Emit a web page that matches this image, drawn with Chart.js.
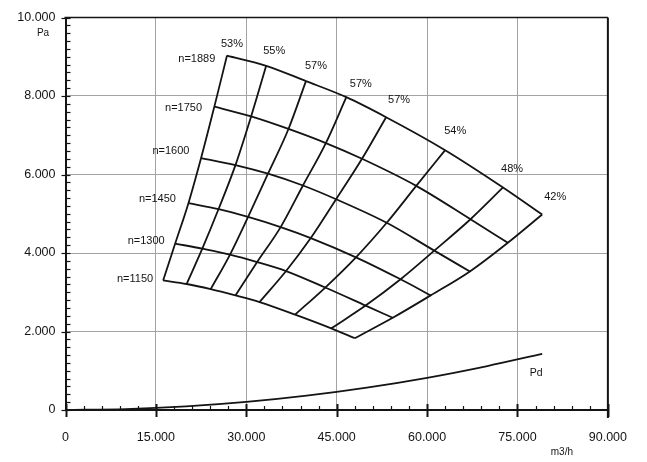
<!DOCTYPE html>
<html>
<head>
<meta charset="utf-8">
<script src="https://cdn.jsdelivr.net/npm/chart.js@4/dist/chart.umd.min.js"></script>
<style>
html,body{margin:0;padding:0;background:#fff;}
#wrap{width:647px;height:462px;}
</style>
</head>
<body>
<div id="wrap"><canvas id="c" width="647" height="462"></canvas></div>
<script>
// ---------- DATA ----------
const speeds = [1150, 1300, 1450, 1600, 1750, 1889];
const efficiencyLabels = ['53%', '55%', '57%', '57%', '57%', '54%', '48%', '42%'];

// flow (m3/h) and pressure (Pa) where each speed curve crosses each efficiency line
const q1150 = [16200, 20100, 24100, 28200, 32200, 38100, 44100, 48000];
const p1150 = [3300, 3210, 3080, 2920, 2750, 2430, 2080, 1830];
const q1300 = [18200, 22700, 27300, 31800, 36600, 43100, 49800, 54300];
const p1300 = [4240, 4110, 3960, 3770, 3540, 3120, 2660, 2350];
const q1450 = [20400, 25400, 30300, 35700, 40700, 48200, 55600, 60600];
const p1450 = [5270, 5120, 4920, 4660, 4380, 3890, 3330, 2920];
const q1600 = [22500, 28200, 33600, 39400, 44900, 53300, 61200, 67100];
const p1600 = [6420, 6240, 6020, 5720, 5370, 4770, 4060, 3530];
const q1750 = [24700, 30800, 37000, 43200, 49200, 58200, 67200, 73400];
const p1750 = [7730, 7480, 7160, 6800, 6400, 5710, 4860, 4260];
const q1889 = [26800, 33300, 39900, 46600, 53200, 63000, 72600, 79100];
const p1889 = [9030, 8770, 8380, 7970, 7460, 6620, 5670, 4980];

// dynamic pressure curve Pd
const pdFlow = [0, 10000, 20000, 30000, 40000, 50000, 60000, 70000, 79100];
const pdPressure = [0, 23, 91, 205, 365, 570, 820, 1120, 1430];

// axis ticks
const flowTicks = [0, 15000, 30000, 45000, 60000, 75000, 90000];
const pressureTicks = [0, 2000, 4000, 6000, 8000, 10000];

// ---------- STYLE / LAYOUT ----------
const FONT = "'Liberation Sans', Arial, Helvetica, sans-serif";
const INK = '#141414';
const flowByRow = [q1150, q1300, q1450, q1600, q1750, q1889];
const pressByRow = [p1150, p1300, p1450, p1600, p1750, p1889];
// pixel offsets for annotation text
const nLabelOffsets = [[-10, -1.7], [-10.5, -2.5], [-12.5, -4.5], [-11.7, -6.6], [-12.3, 1], [-11.7, 3.3]];
const pctLabelOffsets = [[5, -12], [8, -15], [10, -15], [14.5, -13], [13, -17], [10, -19], [9, -18], [13, -18]];

const fmt = v => String(v).replace(/\B(?=(\d{3})+(?!\d))/g, '.');

Chart.defaults.font.family = FONT;
Chart.defaults.color = INK;

const lineStyle = {
  showLine: true, pointRadius: 0, pointHoverRadius: 0,
  borderColor: INK, backgroundColor: INK, borderWidth: 1.8,
  cubicInterpolationMode: 'monotone', fill: false
};

const datasets = [];
speeds.forEach((n, i) => {
  datasets.push(Object.assign({
    label: 'n=' + n,
    data: flowByRow[i].map((q, j) => ({ x: q, y: pressByRow[i][j] }))
  }, lineStyle));
});
efficiencyLabels.forEach((e, j) => {
  datasets.push(Object.assign({
    label: e,
    data: speeds.map((n, i) => ({ x: flowByRow[i][j], y: pressByRow[i][j] }))
  }, lineStyle));
});
datasets.push(Object.assign({
  label: 'Pd',
  data: pdFlow.map((q, k) => ({ x: q, y: pdPressure[k] }))
}, lineStyle));

const decor = {
  id: 'decor',
  afterDraw(chart) {
    const { ctx, chartArea: a, scales: { x, y } } = chart;
    ctx.save();
    ctx.strokeStyle = INK;
    ctx.lineCap = 'butt';
    // frame top & right
    ctx.lineWidth = 1.5;
    ctx.beginPath(); ctx.moveTo(a.left - 1, a.top); ctx.lineTo(a.right, a.top); ctx.stroke();
    ctx.lineWidth = 2;
    ctx.beginPath(); ctx.moveTo(a.right, a.top); ctx.lineTo(a.right, a.bottom + 8); ctx.stroke();
    // y axis minor / major ticks
    ctx.lineWidth = 1.2;
    for (let v = 0; v <= 10000; v += 200) {
      const py = Math.round(y.getPixelForValue(v)) + 0.5;
      ctx.beginPath(); ctx.moveTo(a.left, py); ctx.lineTo(a.left + 5, py); ctx.stroke();
      if (v % 2000 === 0) {
        ctx.beginPath(); ctx.moveTo(a.left - 4, py); ctx.lineTo(a.left, py); ctx.stroke();
      }
    }
    // x axis minor / major ticks
    for (let v = 0; v <= 90000; v += 3000) {
      const px = Math.round(x.getPixelForValue(v)) + 0.5;
      if (v % 15000 === 0) {
        ctx.lineWidth = 2;
        ctx.beginPath(); ctx.moveTo(px, a.bottom - 6); ctx.lineTo(px, a.bottom + 7); ctx.stroke();
      } else {
        ctx.lineWidth = 1.2;
        ctx.beginPath(); ctx.moveTo(px, a.bottom); ctx.lineTo(px, a.bottom - 4); ctx.stroke();
      }
    }
    // texts
    ctx.fillStyle = INK;
    ctx.textBaseline = 'middle';
    ctx.font = '11px ' + FONT;
    ctx.textAlign = 'right';
    speeds.forEach((n, i) => {
      const px = x.getPixelForValue(flowByRow[i][0]);
      const py = y.getPixelForValue(pressByRow[i][0]);
      ctx.fillText('n=' + n, px + nLabelOffsets[i][0], py + nLabelOffsets[i][1]);
    });
    ctx.textAlign = 'center';
    const top = flowByRow.length - 1;
    efficiencyLabels.forEach((e, j) => {
      const px = x.getPixelForValue(flowByRow[top][j]);
      const py = y.getPixelForValue(pressByRow[top][j]);
      ctx.fillText(e, px + pctLabelOffsets[j][0], py + pctLabelOffsets[j][1]);
    });
    // Pd label
    ctx.font = '10.5px ' + FONT;
    const lastPd = pdFlow.length - 1;
    ctx.fillText('Pd', x.getPixelForValue(pdFlow[lastPd]) - 6, y.getPixelForValue(pdPressure[lastPd]) + 19);
    // units
    ctx.font = '10px ' + FONT;
    ctx.fillText('Pa', a.left - 22.5, a.top + 15.5);
    ctx.fillText('m3/h', a.right - 46, a.bottom + 42);
    ctx.restore();
  }
};

const gridColor = (ctx) => (ctx.tick ? '#a3a3a3' : 'rgba(0,0,0,0)');

new Chart(document.getElementById('c'), {
  type: 'scatter',
  data: { datasets },
  options: {
    responsive: false,
    animation: false,
    devicePixelRatio: 1,
    layout: { padding: { top: 17.5, right: 37.5, left: 0, bottom: 0 } },
    plugins: { legend: { display: false }, tooltip: { enabled: false } },
    scales: {
      x: {
        type: 'linear', min: flowTicks[0], max: flowTicks[flowTicks.length - 1],
        afterBuildTicks: (s) => { s.ticks = flowTicks.map(v => ({ value: v })); },
        afterFit: (s) => { s.height = 52; },
        ticks: { callback: (v) => fmt(v), font: { size: 12.5 }, color: INK, padding: 20, maxRotation: 0 },
        grid: { color: gridColor, lineWidth: 1, drawTicks: false },
        border: { display: true, color: INK, width: 2 }
      },
      y: {
        type: 'linear', min: pressureTicks[0], max: pressureTicks[pressureTicks.length - 1],
        afterBuildTicks: (s) => { s.ticks = pressureTicks.map(v => ({ value: v })); },
        afterFit: (s) => { s.width = 65.5; },
        ticks: { callback: (v) => fmt(v), font: { size: 12.5 }, color: INK, padding: 10 },
        grid: { color: gridColor, lineWidth: 1, drawTicks: false },
        border: { display: true, color: INK, width: 2 }
      }
    }
  },
  plugins: [decor]
});
</script>
</body>
</html>
